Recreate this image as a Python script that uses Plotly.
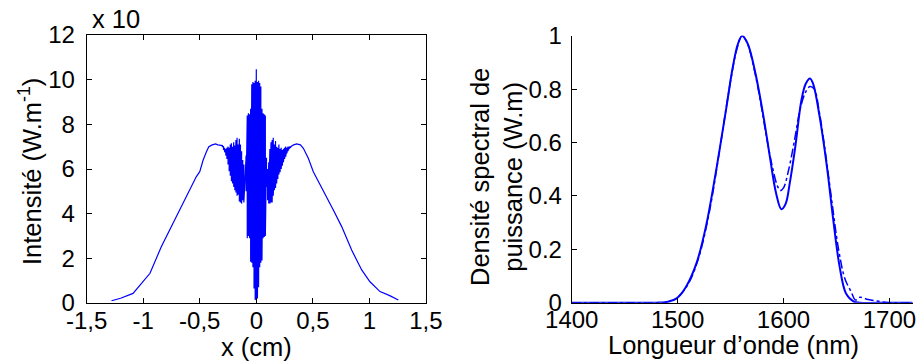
import plotly.graph_objects as go

# ---------------- Left panel: intensity profile ----------------
left_x = [-1.28, -1.20, -1.09, -1.00, -0.94, -0.84, -0.76, -0.66, -0.53, -0.50,
          -0.47, -0.44, -0.42, -0.39, -0.36, -0.34, -0.32, -0.31]
left_y = [0.10, 0.21, 0.43, 0.95, 1.33, 2.52, 3.34, 4.31, 5.66, 5.88,
          6.40, 6.78, 7.00, 7.08, 7.12, 7.08, 7.05, 7.05]

osc_x = [-0.30, -0.29, -0.28, -0.27, -0.26, -0.25, -0.24, -0.23, -0.22, -0.21,
         -0.20, -0.19, -0.18, -0.17, -0.16, -0.15, -0.14, -0.13, -0.12, -0.11,
         -0.10, -0.09, -0.08, -0.07, -0.06, -0.05, -0.04, -0.03, -0.02, -0.01,
         0.00, 0.01, 0.02, 0.03, 0.04, 0.05, 0.06, 0.07, 0.08, 0.09,
         0.10, 0.11, 0.12, 0.13, 0.14, 0.15, 0.16, 0.17, 0.18, 0.19,
         0.20, 0.21, 0.22, 0.23, 0.24, 0.25, 0.26, 0.27, 0.28, 0.29, 0.30]
osc_upper = [7.05, 7.00, 6.95, 6.90, 6.95, 7.00, 6.95, 7.10, 7.15, 7.00,
             7.20, 7.05, 7.30, 7.40, 7.10, 7.35, 7.10, 6.80, 6.40, 6.20,
             6.00, 6.60, 8.40, 8.50, 8.45, 8.70, 9.80, 9.90, 9.85, 9.95,
             10.47, 9.90, 9.95, 9.85, 9.70, 8.70, 8.50, 8.45, 8.40, 6.50,
             6.00, 6.30, 6.90, 7.20, 7.30, 7.40, 7.10, 7.25, 7.00, 6.95,
             7.10, 6.90, 6.95, 6.85, 6.90, 6.95, 7.00, 6.95, 7.00, 7.00, 7.02]
osc_lower = [7.00, 6.85, 6.75, 6.60, 6.45, 6.20, 5.90, 5.70, 5.45, 5.35,
             5.20, 5.05, 4.95, 4.80, 4.85, 4.55, 4.50, 4.45, 4.60, 4.50,
             5.50, 5.00, 2.90, 3.00, 2.90, 1.85, 1.80, 1.60, 0.65, 0.15,
             0.12, 0.20, 0.70, 1.60, 1.80, 1.90, 2.90, 2.95, 3.00, 5.20,
             4.60, 4.45, 4.45, 4.50, 4.50, 4.80, 5.05, 5.15, 5.35, 5.55,
             5.75, 5.85, 6.00, 6.15, 6.30, 6.45, 6.55, 6.70, 6.80, 6.90, 6.95]

right_x = [0.31, 0.33, 0.357, 0.39, 0.416, 0.46, 0.504, 0.592, 0.681, 0.755,
           0.843, 0.932, 1.005, 1.094, 1.18, 1.256]
right_y = [7.02, 7.08, 7.12, 7.08, 6.93, 6.48, 5.88, 5.06, 4.16, 3.42,
           2.37, 1.48, 0.95, 0.51, 0.33, 0.13]

x_ticks = [-1.5, -1, -0.5, 0, 0.5, 1, 1.5]
x_ticktext = ["-1,5", "-1", "-0,5", "0", "0,5", "1", "1,5"]
y_ticks_left = [0, 2, 4, 6, 8, 10, 12]

# ---------------- Right panel: spectra ----------------
wl_solid = [1400, 1450, 1480, 1490, 1499, 1508, 1518, 1527, 1537, 1546, 1552,
            1557, 1561, 1565, 1568, 1574, 1581, 1587, 1593, 1598, 1602, 1606,
            1611, 1617, 1621, 1625, 1628, 1634, 1641, 1647, 1653, 1659, 1666,
            1672, 1700, 1722]
psd_solid = [0, 0, 0, 0.003, 0.016, 0.06, 0.15, 0.29, 0.51, 0.73, 0.88,
             0.97, 1.00, 0.98, 0.95, 0.85, 0.70, 0.55, 0.41, 0.35, 0.37, 0.45,
             0.58, 0.76, 0.82, 0.84, 0.82, 0.70, 0.51, 0.31, 0.135, 0.035, 0.005,
             0, 0, 0]

wl_dash = [1400, 1450, 1485, 1492, 1500, 1510, 1520, 1530, 1540, 1550, 1556,
           1561, 1566, 1572, 1578, 1584, 1590, 1594, 1597, 1600, 1605, 1610,
           1616, 1621, 1625, 1629, 1634, 1640, 1646, 1652, 1658, 1664, 1668,
           1672, 1680, 1690, 1700, 1722]
psd_dash = [0, 0, 0, 0.004, 0.02, 0.07, 0.17, 0.34, 0.58, 0.83, 0.95,
            1.00, 0.97, 0.88, 0.76, 0.62, 0.50, 0.44, 0.42, 0.43, 0.50, 0.60,
            0.73, 0.79, 0.81, 0.80, 0.71, 0.55, 0.37, 0.20, 0.09, 0.04, 0.01,
            0.02, 0.012, 0.005, 0, 0]
y_ticks_right = [0, 0.2, 0.4, 0.6, 0.8, 1]
y_ticktext_right = ["0", "0.2", "0.4", "0.6", "0.8", "1"]
x_ticks_right = [1400, 1500, 1600, 1700]

# build the oscillating profile (zig-zag between read envelopes)
zig_x, zig_y = [], []
for xv, up, lo in zip(osc_x, osc_upper, osc_lower):
    zig_x += [xv, xv]
    zig_y += [up, lo]

prof_x = left_x + zig_x + right_x
prof_y = left_y + zig_y + right_y

BLUE = "#0000FF"
FONT = "Liberation Sans, Arial, sans-serif"
FS = 24     # tick labels
FT = 25.5   # titles

fig = go.Figure()
fig.add_trace(go.Scatter(x=prof_x, y=prof_y, mode="lines",
                         line=dict(color=BLUE, width=1.2),
                         xaxis="x", yaxis="y", showlegend=False))
fig.add_trace(go.Scatter(x=wl_solid, y=psd_solid, mode="lines", line_shape="spline",
                         line=dict(color=BLUE, width=2),
                         xaxis="x2", yaxis="y2", showlegend=False))
fig.add_trace(go.Scatter(x=wl_dash, y=psd_dash, mode="lines", line_shape="spline",
                         line=dict(color=BLUE, width=1.5, dash="dashdot"),
                         xaxis="x2", yaxis="y2", showlegend=False))

ax_common = dict(showgrid=False, zeroline=False, ticks="inside", ticklen=5,
                 tickcolor="black", tickwidth=1, linecolor="black", linewidth=1,
                 showline=True, automargin=False,
                 tickfont=dict(family=FONT, size=FS, color="black"))

fig.update_layout(
    width=918, height=361,
    margin=dict(l=0, r=0, t=0, b=0, autoexpand=False),
    paper_bgcolor="white", plot_bgcolor="white",
    font=dict(family=FONT, size=FS, color="black"),
    xaxis=dict(domain=[0.0944, 0.464], range=[-1.5, 1.5], tickvals=x_ticks,
               ticktext=x_ticktext, mirror="allticks", anchor="y",
               ticklabelstandoff=-4, **ax_common),
    yaxis=dict(domain=[0.1607, 0.903], range=[0, 12], tickvals=y_ticks_left,
               mirror="allticks", anchor="x", ticklabelstandoff=6, **ax_common),
    xaxis2=dict(domain=[0.6228, 0.9942], range=[1400, 1722], tickvals=x_ticks_right,
                anchor="y2", mirror=False, ticklabelstandoff=-4, **ax_common),
    yaxis2=dict(domain=[0.1615, 0.901], range=[0, 1], tickvals=y_ticks_right,
                ticktext=y_ticktext_right, anchor="x2", mirror=False,
                ticklabelstandoff=4, **ax_common),
    annotations=[
        dict(text="x (cm)", x=256 / 918, y=1 - 347 / 361, xref="paper", yref="paper",
             showarrow=False, xanchor="center", yanchor="middle",
             font=dict(family=FONT, size=FT)),
        dict(text="Intensité (W.m<sup>-1</sup>)", x=30 / 918, y=1 - 172 / 361,
             xref="paper", yref="paper", showarrow=False, textangle=-90,
             xanchor="center", yanchor="middle", font=dict(family=FONT, size=FT)),
        dict(text="x 10", x=116 / 918, y=1 - 19 / 361, xref="paper", yref="paper",
             showarrow=False, xanchor="center", yanchor="middle",
             font=dict(family=FONT, size=FT)),
        dict(text="Longueur d’onde (nm)", x=733 / 918, y=1 - 345 / 361,
             xref="paper", yref="paper", showarrow=False, xanchor="center",
             yanchor="middle", font=dict(family=FONT, size=FT)),
        dict(text="Densité spectral de<br>puissance (W.m)", x=496 / 918,
             y=1 - 177 / 361, xref="paper", yref="paper", showarrow=False,
             textangle=-90, xanchor="center", yanchor="middle",
             font=dict(family=FONT, size=FT)),
    ],
)

fig.write_html("out.html",
               config={"displayModeBar": False},
               post_script="document.body.style.margin='0px';"
                           "document.body.style.overflow='hidden';")
